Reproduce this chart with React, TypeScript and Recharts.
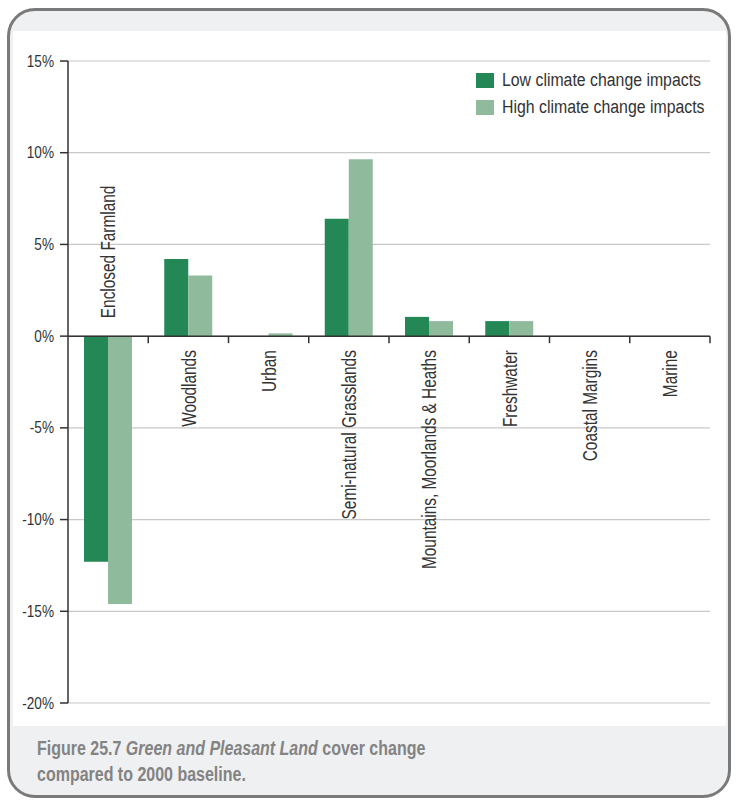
import React from 'react';
import { BarChart, Bar, XAxis, YAxis, CartesianGrid, ReferenceLine } from 'recharts';

const categories = [
  'Enclosed Farmland',
  'Woodlands',
  'Urban',
  'Semi-natural Grasslands',
  'Mountains, Moorlands & Heaths',
  'Freshwater',
  'Coastal Margins',
  'Marine',
];
const lowImpacts = [-12.3, 4.2, 0, 6.4, 1.05, 0.82, 0, 0];
const highImpacts = [-14.6, 3.3, 0.15, 9.65, 0.82, 0.82, 0, 0];
const yTicks = [15, 10, 5, 0, -5, -10, -15, -20];
const seriesNames = ['Low climate change impacts', 'High climate change impacts'];

const data = categories.map((name, i) => ({ name, low: lowImpacts[i], high: highImpacts[i] }));

const DARK = '#238756';
const LIGHT = '#8fba9c';
const FONT = "'Liberation Sans', Arial, sans-serif";

const W = 737;
const H = 800;
const X_AXIS_H = 30;
const M = { top: 61, right: 27, bottom: 97 - X_AXIS_H, left: 8 };
const Y_AXIS_W = 60;
const DOMAIN: [number, number] = [-20, 15];

const plotLeft = M.left + Y_AXIS_W;
const plotW = W - plotLeft - M.right;
const plotH = H - M.top - M.bottom - X_AXIS_H;
const band = plotW / categories.length;
const zeroY = M.top + (plotH * (DOMAIN[1] - 0)) / (DOMAIN[1] - DOMAIN[0]);

function CategoryTick(props: any) {
  const { x, index, payload } = props;
  const below = lowImpacts[index] >= 0;
  const ty = below ? zeroY + 14 : zeroY - 18;
  return (
    <g>
      <line x1={x + band / 2} x2={x + band / 2} y1={zeroY} y2={zeroY + 7} stroke="#333" strokeWidth={1.5} />
      <text
        x={0}
        y={0}
        transform={`translate(${x}, ${ty}) rotate(-90) scale(0.77, 1)`}
        textAnchor={below ? 'end' : 'start'}
        dy="0.36em"
        fontFamily={FONT}
        fontSize={20}
        fill="#333"
      >
        {payload.value}
      </text>
    </g>
  );
}

function ValueTick(props: any) {
  const { x, y, payload } = props;
  return (
    <text
      x={0}
      y={0}
      transform={`translate(${x}, ${y}) scale(0.85, 1)`}
      textAnchor="end"
      dy="0.35em"
      fontFamily={FONT}
      fontSize={16}
      fill="#333"
    >
      {`${payload.value}%`}
    </text>
  );
}

export default function App() {
  const colors = [DARK, LIGHT];
  return (
    <div style={{ position: 'absolute', left: 0, top: 0, width: W, height: H, background: '#fff' }}>
      <div
        style={{
          position: 'absolute',
          left: 7,
          top: 8,
          width: 718,
          height: 784,
          border: '3px solid #7a7a7a',
          borderRadius: 28,
          background: '#eff0f2',
          overflow: 'hidden',
        }}
      >
        <div style={{ position: 'absolute', left: 3, top: 20, width: 713, height: 695, background: '#fff' }} />
        <div
          style={{
            position: 'absolute',
            left: 27,
            top: 724,
            fontFamily: FONT,
            fontWeight: 'bold',
            fontSize: 19.5,
            lineHeight: '26px',
            color: '#838383',
            whiteSpace: 'nowrap',
            transform: 'scaleX(0.82)',
            transformOrigin: 'left top',
          }}
        >
          Figure 25.7 <i>Green and Pleasant Land</i> cover change
          <br />
          compared to 2000 baseline.
        </div>
      </div>
      <div style={{ position: 'absolute', left: 0, top: 0 }}>
        <BarChart width={W} height={H} data={data} margin={M} barGap={0}>
          <CartesianGrid vertical={false} stroke="#c8c8c8" strokeWidth={1.2} />
          <XAxis
            dataKey="name"
            height={X_AXIS_H}
            axisLine={false}
            tickLine={false}
            interval={0}
            tick={<CategoryTick />}
          />
          <YAxis
            width={Y_AXIS_W}
            domain={DOMAIN}
            ticks={yTicks}
            interval={0}
            axisLine={{ stroke: '#333', strokeWidth: 1.5 }}
            tickLine={{ stroke: '#333', strokeWidth: 1.5 }}
            tickSize={8}
            tickMargin={6}
            tick={<ValueTick />}
          />
          <Bar dataKey="low" name={seriesNames[0]} fill={DARK} barSize={24} isAnimationActive={false} />
          <Bar dataKey="high" name={seriesNames[1]} fill={LIGHT} barSize={24} isAnimationActive={false} />
          <ReferenceLine y={0} stroke="#333" strokeWidth={1.5} />
        </BarChart>
      </div>
      <div
        style={{
          position: 'absolute',
          left: 476,
          top: 67,
          fontFamily: FONT,
          fontSize: 18,
          color: '#333',
          whiteSpace: 'nowrap',
        }}
      >
        {seriesNames.map((n, i) => (
          <div key={n} style={{ display: 'flex', alignItems: 'center', height: 27 }}>
            <span style={{ width: 18, height: 15, background: colors[i], marginRight: 8, display: 'inline-block' }} />
            <span style={{ display: 'inline-block', transform: 'scaleX(0.88)', transformOrigin: 'left center' }}>{n}</span>
          </div>
        ))}
      </div>
    </div>
  );
}
